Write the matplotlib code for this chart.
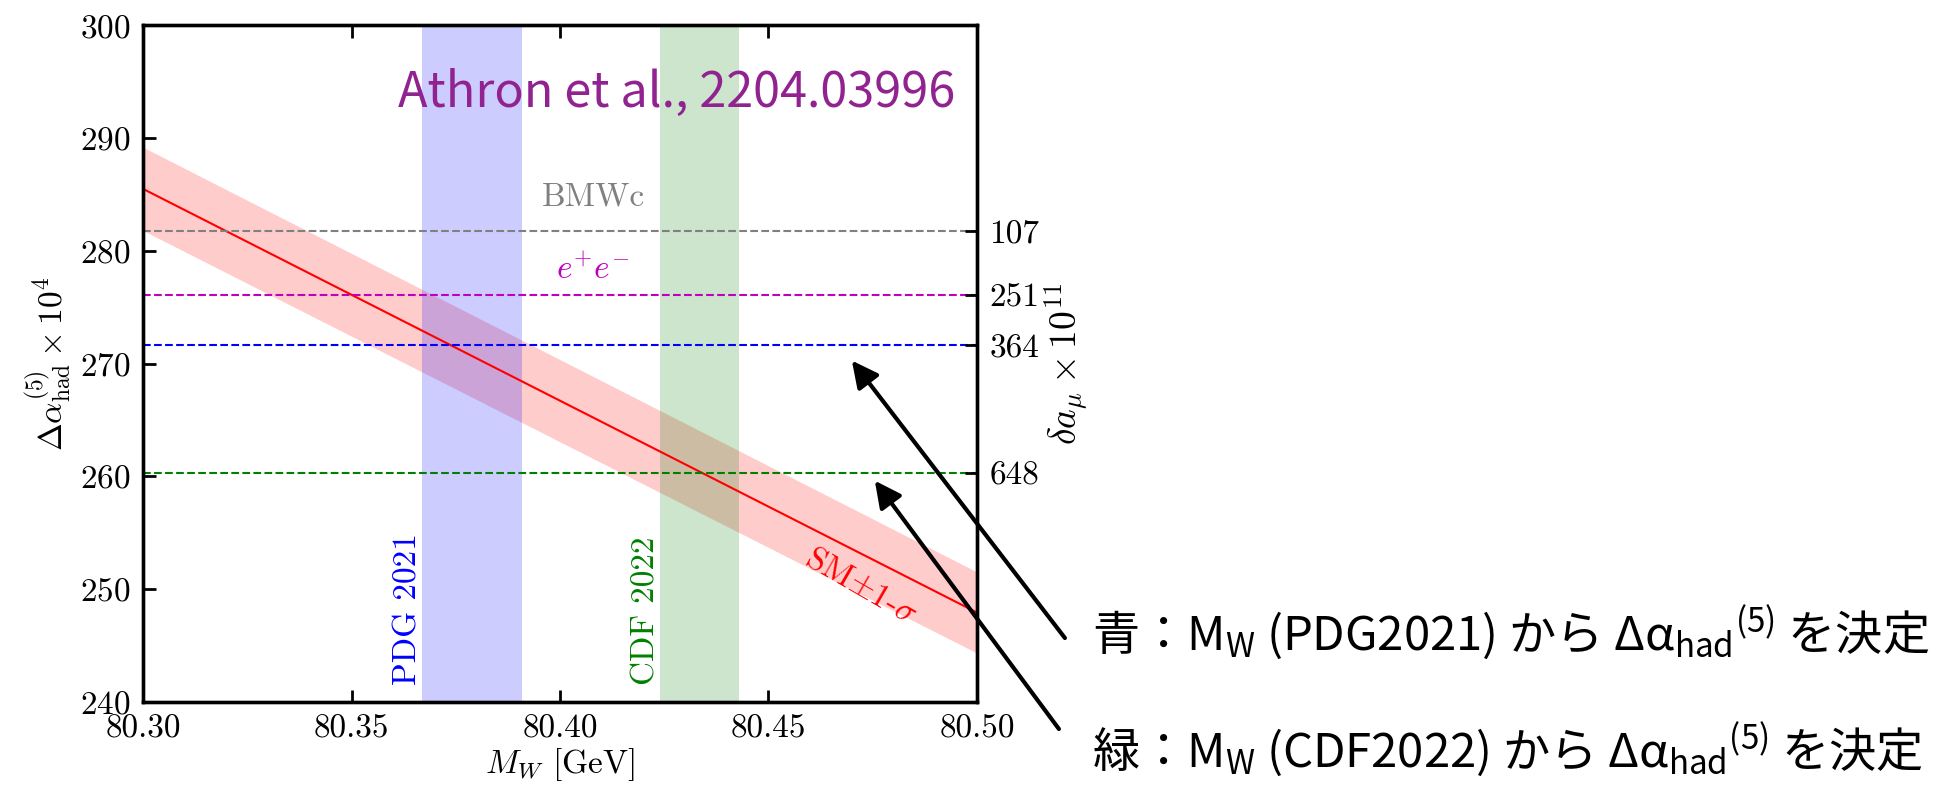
import matplotlib
matplotlib.use('Agg')
import matplotlib.pyplot as plt

plt.rcParams['font.family'] = 'cmr10'
plt.rcParams['mathtext.fontset'] = 'cm'
plt.rcParams['axes.formatter.use_mathtext'] = True
# 'custom' math font set is only used by the Japanese notes
plt.rcParams['mathtext.rm'] = 'Noto Sans CJK JP'
plt.rcParams['mathtext.it'] = 'Noto Sans CJK JP'
plt.rcParams['mathtext.bf'] = 'Noto Sans CJK JP'
plt.rcParams['mathtext.sf'] = 'Noto Sans CJK JP'

# SM prediction of Delta alpha_had^(5) (x 10^4) vs M_W, with 1-sigma band
mw_range = [80.30, 80.50]
sm_central = [285.5, 247.9]
sm_upper = [289.2, 251.5]
sm_lower = [281.8, 244.3]

# W mass measurements: central value and 1-sigma error [GeV]
pdg_mw, pdg_err = 80.379, 0.012
cdf_mw, cdf_err = 80.4335, 0.0094

# Delta alpha_had values and the corresponding shift delta a_mu (x 10^11)
hvp_values = [281.8, 276.1, 271.6, 260.3]
amu_shift = [107, 251, 364, 648]

xticks = [80.30, 80.35, 80.40, 80.45, 80.50]
yticks = [240, 250, 260, 270, 280, 290, 300]

fig = plt.figure(figsize=(19.38, 7.87), dpi=100)
ax = fig.add_axes([0.0738, 0.1086, 0.4303, 0.859])

ax.fill_between(mw_range, sm_lower, sm_upper, color='red', alpha=0.2, lw=0)
ax.plot(mw_range, sm_central, color='red', lw=1.5)
ax.axvspan(pdg_mw - pdg_err, pdg_mw + pdg_err, color='blue', alpha=0.2, lw=0)
ax.axvspan(cdf_mw - cdf_err, cdf_mw + cdf_err, color='green', alpha=0.2, lw=0)

for val, col in zip(hvp_values, ['gray', 'm', 'b', 'g']):
    ax.axhline(val, color=col, ls='--', lw=1.5)

ax.set_xlim(mw_range)
ax.set_ylim(yticks[0], yticks[-1])
ax.set_xticks(xticks)
ax.set_xticklabels([f'{x:.2f}' for x in xticks])
ax.set_yticks(yticks)
ax.set_xlabel(r'$M_W$ [GeV]', fontsize=24, labelpad=2)
ax.set_ylabel(r'$\Delta\alpha^{(5)}_{\rm had}\times 10^4$', fontsize=24, labelpad=4)
ax.tick_params(direction='in', length=9, width=2, labelsize=24, pad=9,
               top=True, right=False)

ax.text(pdg_mw - pdg_err, 241.5, 'PDG 2021', rotation=90, color='blue',
        ha='right', va='bottom', fontsize=24)
ax.text(cdf_mw - cdf_err, 241.5, 'CDF 2022', rotation=90, color='green',
        ha='right', va='bottom', fontsize=24)
ax.text(80.408, 284.0, 'BMWc', color='gray', ha='center', va='baseline', fontsize=24)
ax.text(80.408, 277.5, r'$e^{+}e^{-}$', color='m', ha='center', va='baseline', fontsize=24)
ax.text(80.4721, 250.2, r'SM$\pm$1-$\sigma$', color='red', rotation=-30,
        rotation_mode='anchor', ha='center', va='center', fontsize=24)
ax.text(80.428, 292.8, 'Athron et al., 2204.03996', color='#912391',
        family='Noto Sans CJK JP', ha='center', va='baseline', fontsize=35)

# right axis: delta a_mu at each horizontal line
ax2 = ax.twinx()
ax2.set_ylim(yticks[0], yticks[-1])
ax2.set_yticks(hvp_values)
ax2.set_yticklabels([str(v) for v in amu_shift])
ax2.set_ylabel(r'$\delta a_\mu \times 10^{11}$', fontsize=27, labelpad=2)
ax2.tick_params(direction='in', length=9, width=2, labelsize=24, pad=9)

for a in (ax, ax2):
    for sp in a.spines.values():
        sp.set_linewidth(2.4)

# arrows from the notes to the lines they refer to
arrow_kw = dict(arrowstyle='-|>', color='k', lw=3, mutation_scale=40,
                shrinkA=0, shrinkB=0)
ax2.annotate('', xy=(80.470, 270.26), xytext=(0.5495, 0.1893),
             textcoords='figure fraction', arrowprops=arrow_kw, annotation_clip=False)
ax2.annotate('', xy=(80.4755, 259.6), xytext=(0.5464, 0.0737),
             textcoords='figure fraction', arrowprops=arrow_kw, annotation_clip=False)

note_kw = dict(fontsize=34, family='Noto Sans CJK JP', math_fontfamily='custom',
               va='center', ha='left')
fig.text(0.5635, 0.1957, r'青：M$_\mathrm{W}$ (PDG2021) から Δα$_\mathrm{had}{}^\mathrm{(5)}$ を決定', **note_kw)
fig.text(0.5635, 0.047, r'緑：M$_\mathrm{W}$ (CDF2022) から Δα$_\mathrm{had}{}^\mathrm{(5)}$ を決定', **note_kw)

fig.savefig('out.png', dpi=100)
